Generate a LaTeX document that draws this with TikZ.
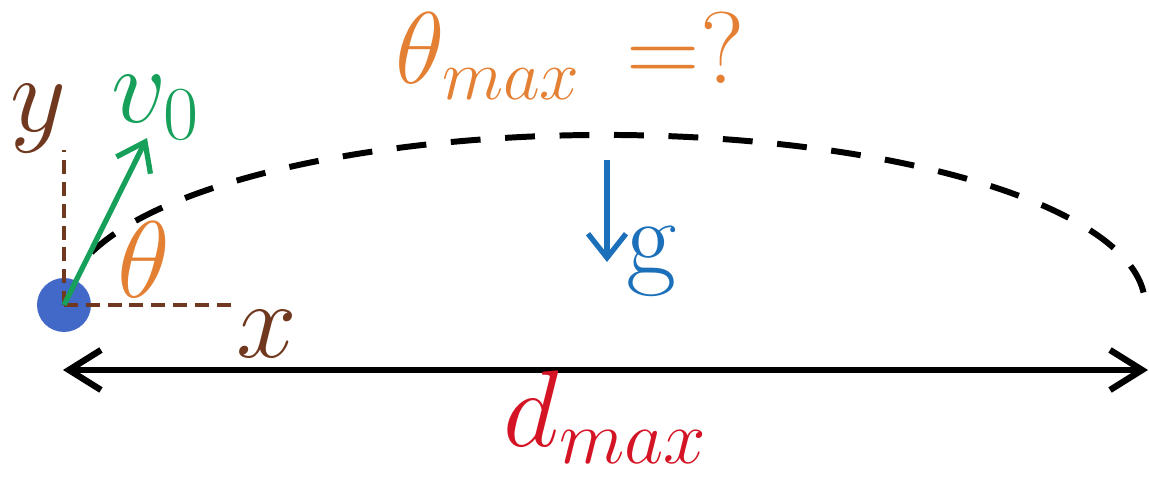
\RequirePackage{fix-cm}
\documentclass[tikz,border=0pt]{standalone}
\usetikzlibrary{arrows.meta, calc}

\definecolor{axbrown}{RGB}{112,56,30}
\definecolor{angorange}{RGB}{228,128,52}
\definecolor{velgreen}{RGB}{22,160,90}
\definecolor{ballblue}{RGB}{66,104,200}
\definecolor{gblue}{RGB}{28,112,186}
\definecolor{distred}{RGB}{212,20,36}

\begin{document}
\begin{tikzpicture}[
    lbl/.style={inner sep=0pt, anchor=base west, font=\fontsize{31}{36}\selectfont},
    axisline/.style={draw=axbrown, line width=1.3pt, dash pattern=on 4pt off 2.2pt},
    traj/.style={draw=black, line width=1.7pt, dash pattern=on 8.5pt off 7pt},
    ball/.style={circle, fill=ballblue, minimum size=0.54cm, inner sep=0pt},
    ]
    \useasboundingbox (0,0) rectangle (11.49,4.77);

    % flight path (half ellipse)
    \coordinate (ctr) at (6.05,1.72);
    \draw[traj] ($(ctr)+(162:5.40 and 1.70)$) arc[start angle=162, end angle=4, x radius=5.40, y radius=1.70];

    % ball and axes
    \node[ball] (ball) at (0.64,1.72) {};
    \coordinate (ytop) at (0.64,3.27);
    \coordinate (xend) at (2.37,1.72);
    \draw[axisline] (ball.center) -- (ytop);
    \draw[axisline] (ball.center) -- (xend);

    % launch velocity
    \coordinate (vtip) at (1.47,3.39);
    \draw[velgreen, line width=1.5pt, -{Straight Barb[length=2.6mm, width=3.8mm]}] (ball.center) -- (vtip);

    % gravity
    \coordinate (gtop) at (6.07,3.17);
    \coordinate (gbot) at (6.07,2.15);
    \draw[gblue, line width=1.5pt, -{Straight Barb[length=2.4mm, width=3.8mm]}] (gtop) -- (gbot);

    % range
    \coordinate (dl) at (0.63,1.07);
    \coordinate (dr) at (11.48,1.07);
    \draw[black, line width=1.8pt, {Straight Barb[length=3.2mm, width=4mm]}-{Straight Barb[length=3.2mm, width=4mm]}] (dl) -- (dr);

    % labels
    \node[lbl, text=axbrown] (ylab) at (0.10,3.45) {$y$};
    \node[lbl, text=axbrown] (xlab) at (2.36,1.19) {$x$};
    \node[lbl, text=velgreen] (vlab) at (1.11,3.54) {$v_0$};
    \node[lbl, text=angorange] (thlab) at (1.17,1.79) {$\theta$};
    \node[lbl, text=gblue] (glab) at (6.26,2.02) {$\mathrm{g}$};
    \node[lbl, text=angorange, font=\fontsize{29}{34}\selectfont] (thmax) at (3.95,3.93) {$\theta_{max}\;\,{=}?$};
    \node[lbl, text=distred] (dmax) at (5.03,0.30) {$d_{max}$};
\end{tikzpicture}
\end{document}
